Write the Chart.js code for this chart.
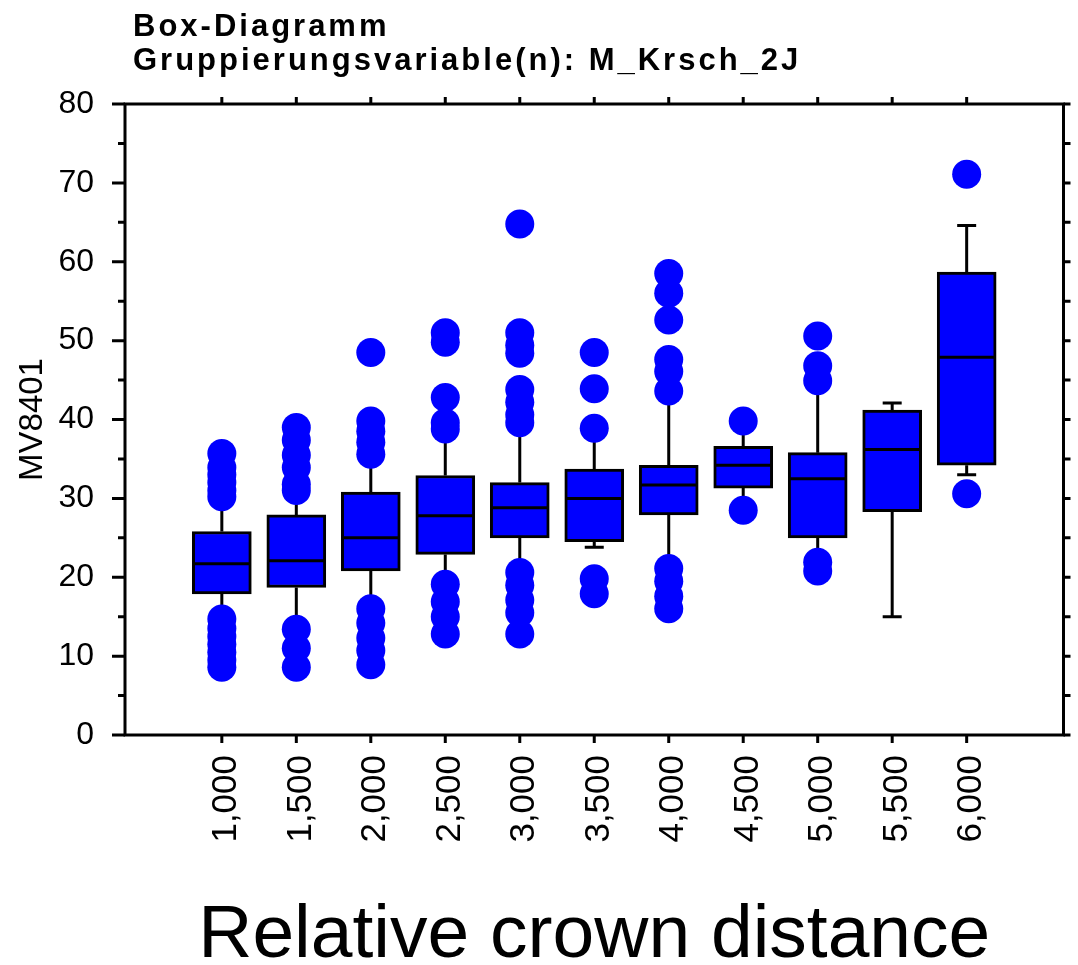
<!DOCTYPE html>
<html>
<head>
<meta charset="utf-8">
<script src="https://cdn.jsdelivr.net/npm/chart.js@4"></script>
<style>
  body { margin: 0; background: #fff; }
  #wrap { position: relative; width: 1078px; height: 965px; }
  #chart { position: absolute; left: 0; top: 0; }
  #title {
    position: absolute; left: 133px; top: 9px;
    font: bold 31px "Liberation Sans", Arial, sans-serif;
    line-height: 34px; letter-spacing: 3px; color: #000;
  }
</style>
</head>
<body>
<div id="wrap">
  <canvas id="chart" width="1078" height="965"></canvas>
  <div id="title">Box-Diagramm<br>Gruppierungsvariable(n): M_Krsch_2J</div>
</div>
<script>
// Box plot data
const categories = [1.0, 1.5, 2.0, 2.5, 3.0, 3.5, 4.0, 4.5, 5.0, 5.5, 6.0];
const tickLabels = ['1,000', '1,500', '2,000', '2,500', '3,000', '3,500', '4,000', '4,500', '5,000', '5,500', '6,000'];

const whiskerLow  = [15.3, 14.0, 17.0, 19.6, 21.2, 23.8, 21.7, 29.2, 22.5, 15.0, 33.0];
const q1          = [17.9, 18.7, 20.8, 22.9, 25.0, 24.5, 27.9, 31.3, 25.0, 28.3, 34.2];
const median      = [21.7, 22.1, 25.0, 27.8, 28.8, 30.0, 31.7, 34.2, 32.5, 36.2, 47.9];
const q3          = [25.8, 27.9, 30.8, 32.9, 32.0, 33.7, 34.2, 36.6, 35.8, 41.2, 58.7];
const whiskerHigh = [29.5, 30.5, 35.0, 38.2, 39.0, 38.3, 43.0, 39.2, 44.3, 42.1, 64.6];

const outliers = [
  [35.7, 33.9, 33.0, 32.0, 31.0, 30.2, 14.7, 13.5, 12.5, 11.5, 10.5, 9.5, 8.6],
  [39.0, 37.4, 35.5, 33.9, 31.8, 31.0, 13.4, 11.0, 8.6],
  [48.5, 39.8, 38.5, 37.1, 35.6, 16.0, 14.2, 12.3, 10.7, 8.9],
  [51.0, 49.8, 42.8, 39.6, 38.8, 19.1, 16.9, 15.0, 12.8],
  [64.8, 51.0, 49.4, 48.4, 43.8, 42.2, 40.6, 39.6, 20.6, 19.0, 17.1, 15.5, 12.8],
  [48.5, 43.9, 38.9, 19.8, 17.9],
  [58.5, 56.0, 52.6, 47.6, 46.1, 43.6, 21.1, 19.5, 17.6, 16.0],
  [39.8, 28.5],
  [50.6, 46.8, 44.9, 21.9, 20.8],
  [],
  [71.1, 30.6]
];

const FONT = '"Liberation Sans", Arial, sans-serif';

const boxes = categories.map((c, i) => ({ x: c, y: [q1[i], q3[i]] }));
const points = [];
categories.forEach((c, i) => {
  outliers[i].forEach(v => points.push({ x: c, y: v }));
});

// whiskers under the boxes, medians on top of them, frame + tick marks last
const boxPlotExtras = {
  id: 'boxPlotExtras',
  beforeDatasetsDraw(chart) {
    const { ctx, scales: { x, y } } = chart;
    ctx.save();
    ctx.strokeStyle = '#000';
    ctx.lineWidth = 3;
    categories.forEach((c, i) => {
      const px = x.getPixelForValue(c);
      const segs = [[q3[i], whiskerHigh[i]], [q1[i], whiskerLow[i]]];
      segs.forEach(([from, to]) => {
        const y0 = y.getPixelForValue(from);
        const y1 = y.getPixelForValue(to);
        ctx.beginPath();
        ctx.moveTo(px, y0);
        ctx.lineTo(px, y1);
        ctx.moveTo(px - 9.5, y1);
        ctx.lineTo(px + 9.5, y1);
        ctx.stroke();
      });
    });
    ctx.restore();
  },
  afterDatasetDraw(chart, args) {
    if (args.index !== 0) return;
    const { ctx, scales: { x, y } } = chart;
    ctx.save();
    ctx.strokeStyle = '#000';
    ctx.lineWidth = 3;
    categories.forEach((c, i) => {
      const px = x.getPixelForValue(c);
      const py = y.getPixelForValue(median[i]);
      ctx.beginPath();
      ctx.moveTo(px - 29, py);
      ctx.lineTo(px + 29, py);
      ctx.stroke();
    });
    ctx.restore();
  },
  afterDraw(chart) {
    const { ctx, chartArea: a, scales: { x, y } } = chart;
    ctx.save();
    ctx.strokeStyle = '#000';
    ctx.lineWidth = 3;
    ctx.strokeRect(a.left, a.top, a.right - a.left, a.bottom - a.top);
    ctx.beginPath();
    y.ticks.forEach(t => {
      const py = y.getPixelForValue(t.value);
      const len = t.value % 10 === 0 ? 13 : 7;
      ctx.moveTo(a.left - len, py);
      ctx.lineTo(a.left, py);
      ctx.moveTo(a.right, py);
      ctx.lineTo(a.right + 7, py);
    });
    x.ticks.forEach(t => {
      const px = x.getPixelForValue(t.value);
      ctx.moveTo(px, a.top - 7);
      ctx.lineTo(px, a.top);
      ctx.moveTo(px, a.bottom);
      ctx.lineTo(px, a.bottom + 8);
    });
    ctx.stroke();
    ctx.restore();
  }
};

new Chart(document.getElementById('chart').getContext('2d'), {
  type: 'bar',
  data: {
    datasets: [
      {
        type: 'bar',
        data: boxes,
        backgroundColor: '#0000ff',
        borderColor: '#000',
        borderWidth: 3,
        borderSkipped: false,
        barThickness: 59,
        order: 2
      },
      {
        type: 'scatter',
        data: points,
        backgroundColor: '#0000ff',
        borderWidth: 0,
        pointRadius: 14.5,
        pointHoverRadius: 14.5,
        order: 1
      }
    ]
  },
  options: {
    responsive: false,
    animation: false,
    layout: { padding: { top: 104, right: 6, left: 0, bottom: 0 } },
    plugins: {
      legend: { display: false },
      tooltip: { enabled: false }
    },
    scales: {
      x: {
        type: 'linear',
        min: 0.35,
        max: 6.65,
        offset: false,
        grid: { display: false, drawTicks: false },
        border: { display: false },
        afterBuildTicks: scale => {
          scale.ticks = categories.map(v => ({ value: v }));
        },
        afterFit: scale => { scale.height = 230; },
        ticks: {
          autoSkip: false,
          minRotation: 90,
          maxRotation: 90,
          padding: 20,
          labelOffset: 5,
          color: '#000',
          font: { family: FONT, size: 35 },
          callback: (v, i) => tickLabels[i]
        },
        title: {
          display: true,
          text: 'Relative crown distance',
          color: '#000',
          font: { family: FONT, size: 75, lineHeight: 1.0 },
          padding: { top: 0, bottom: -9 }
        }
      },
      y: {
        min: 0,
        max: 80,
        grid: { display: false, drawTicks: false },
        border: { display: false },
        afterFit: scale => { scale.width = 125; },
        ticks: {
          stepSize: 5,
          autoSkip: false,
          padding: 31,
          color: '#000',
          font: { family: FONT, size: 32 },
          callback: v => (v % 10 === 0 ? v : '')
        },
        title: {
          display: true,
          text: 'MV8401',
          color: '#000',
          font: { family: FONT, size: 33 },
          padding: { top: 13, bottom: 0 }
        }
      }
    }
  },
  plugins: [boxPlotExtras]
});
</script>
</body>
</html>
